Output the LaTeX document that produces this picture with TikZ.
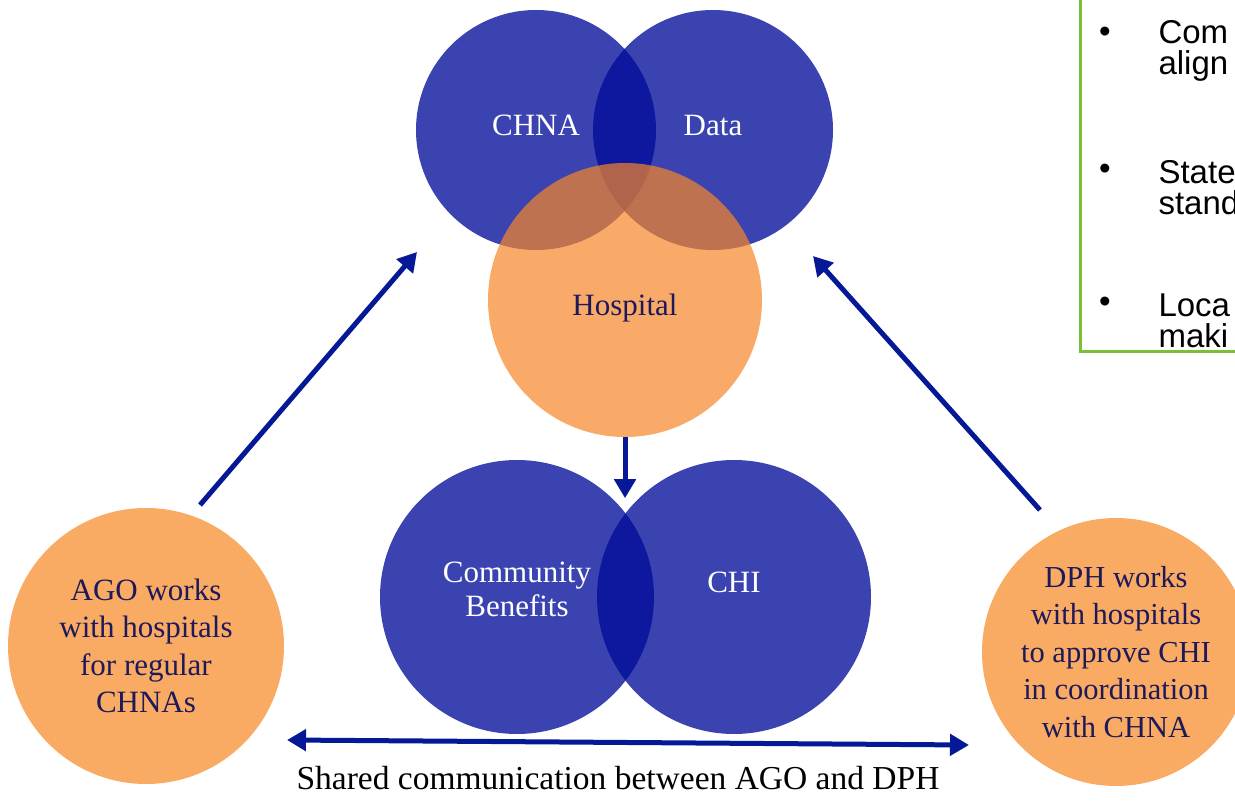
\documentclass[tikz,border=0pt]{standalone}
\usepackage{fontspec}
\setmainfont{Liberation Serif}
\newfontfamily\boxfont{Liberation Sans}
\usetikzlibrary{arrows.meta}
\definecolor{vennblue}{RGB}{0,11,152}
\definecolor{vennorange}{RGB}{246,134,40}
\definecolor{peach}{RGB}{249,170,99}
\definecolor{arrowblue}{RGB}{5,25,150}
\definecolor{txtnavy}{RGB}{30,25,90}
\definecolor{boxgreen}{RGB}{125,190,55}

\begin{document}
\begin{tikzpicture}[x=1pt,y=-1pt,
    bluec/.style={circle,fill=vennblue,fill opacity=0.77,text opacity=1,text=white,inner sep=0pt,align=center},
    orangec/.style={circle,fill=vennorange,fill opacity=0.7,text opacity=1,text=txtnavy,inner sep=0pt},
    peachc/.style={circle,fill=peach,text=txtnavy,inner sep=0pt,align=center},
    arr/.style={line width=5pt,draw=arrowblue,-{Triangle[length=19pt,width=21pt]}},
    font=\fontsize{31}{34}\selectfont]
    \useasboundingbox (0,0) rectangle (1235,802);
    \clip (0,0) rectangle (1235,802);
    % top venn
    \node[bluec,minimum size=240pt,text depth=10pt] (chna) at (536,130) {CHNA};
    \node[bluec,minimum size=240pt,text depth=10pt] (data) at (713,130) {Data};
    \node[orangec,minimum size=274pt,text height=37.5pt] (hosp) at (625,300) {Hospital};
    % bottom pair
    \node[bluec,minimum size=274pt,text depth=16pt] (cb) at (517,597) {Community\\Benefits};
    \node[bluec,minimum size=274pt,text depth=30pt] (chi) at (734,597) {CHI};
    % side circles
    \node[peachc,minimum size=276pt,font=\fontsize{31}{37.5}\selectfont] (ago) at (146,646)
      {AGO works\\with hospitals\\for regular\\CHNAs};
    \node[peachc,minimum size=268pt,font=\fontsize{30.5}{37.5}\selectfont] (dph) at (1116,652)
      {DPH works\\with hospitals\\to approve CHI\\in coordination\\with CHNA};
    % arrows
    \coordinate (agoout) at (200,505);
    \coordinate (chnain) at (417,252);
    \coordinate (dphout) at (1040,510);
    \coordinate (datain) at (813,256);
    \draw[arr] (agoout) -- (chnain);
    \draw[arr] (dphout) -- (datain);
    \draw[arr] (hosp.south) -- ++(0,61);
    \coordinate (commL) at (287,740);
    \coordinate (commR) at (969,745);
    \draw[arr,{Triangle[length=19pt,width=21pt]}-{Triangle[length=19pt,width=21pt]}] (commL) -- (commR);
    \node[font=\fontsize{33.5}{40}\selectfont] (cap) at (618,778) {Shared communication between AGO and DPH};
    % side box
    \draw[boxgreen,line width=3pt] (1080,-10) rectangle (1260,352);
    \begin{scope}[font=\boxfont\fontsize{33}{31}\selectfont]
      \node (b1) at (1105,35) {\textbullet};
      \node (b2) at (1105,172) {\textbullet};
      \node (b3) at (1105,305) {\textbullet};
      \node[anchor=west,align=left] (t1) at (1155,51) {Com\\align};
      \node[anchor=west,align=left] (t2) at (1155,188) {State\\stand};
      \node[anchor=west,align=left] (t3) at (1155,321) {Loca\\maki};
    \end{scope}
\end{tikzpicture}
\end{document}
